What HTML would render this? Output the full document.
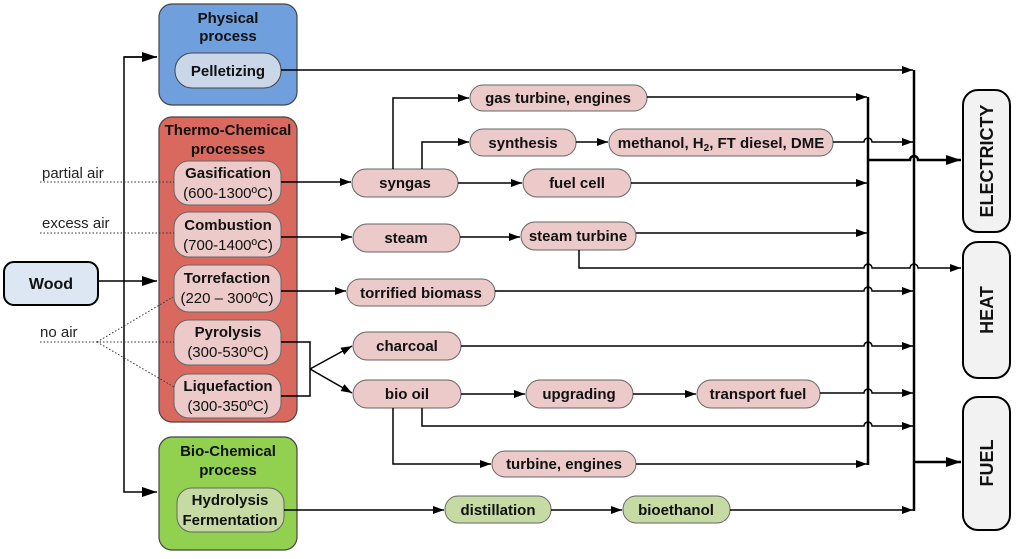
<!DOCTYPE html>
<html><head><meta charset="utf-8"><style>
html,body{margin:0;padding:0;background:#fff;}
svg{display:block;font-family:"Liberation Sans",Arial,sans-serif;}
.b{font-weight:bold;font-size:15px;text-anchor:middle;fill:#111;}
.n{font-size:15px;text-anchor:middle;fill:#111;}
.o{font-weight:bold;font-size:18px;text-anchor:middle;fill:#111;}
.l{font-size:15px;fill:#222;}
.p{fill:#ebcac9;stroke:#666;stroke-width:1;}
.g{fill:#c6dba4;stroke:#666;stroke-width:1;}
.ln{fill:none;stroke:#000;stroke-width:1.5;}
.dt{fill:none;stroke:#333;stroke-width:1;stroke-dasharray:1.5 2;}
</style></head><body>
<svg width="1024" height="559" viewBox="0 0 1024 559" xmlns="http://www.w3.org/2000/svg">
<defs>
<marker id="a" markerWidth="11" markerHeight="8" refX="11" refY="4" orient="auto" markerUnits="userSpaceOnUse"><path d="M0,0 L11,4 L0,8 z" fill="#000"/></marker>
<marker id="A" markerWidth="15" markerHeight="10" refX="15" refY="5" orient="auto" markerUnits="userSpaceOnUse"><path d="M0,0 L15,5 L0,10 z" fill="#000"/></marker>
</defs>

<rect x="159" y="4" width="138" height="101" rx="13" fill="#6f9fdc" stroke="#444" stroke-width="1.2"/>
<text class="b" x="228" y="23">Physical</text><text class="b" x="228" y="41">process</text>
<rect x="175" y="53" width="106" height="35" rx="17" fill="#c9d7e8" stroke="#444"/>
<text class="b" x="228" y="76">Pelletizing</text>

<rect x="159" y="117" width="138" height="305" rx="13" fill="#d9695f" stroke="#444" stroke-width="1.2"/>
<text class="b" x="228" y="135">Thermo-Chemical</text><text class="b" x="228" y="154">processes</text>
<rect x="174" y="161" width="107" height="44" rx="15" class="p"/>
<text class="b" x="228" y="178">Gasification</text><text class="n" x="228" y="198">(600-1300ºC)</text>
<rect x="174" y="212" width="107" height="45" rx="15" class="p"/>
<text class="b" x="228" y="230">Combustion</text><text class="n" x="228" y="250">(700-1400ºC)</text>
<rect x="174" y="265" width="107" height="47" rx="15" class="p"/>
<text class="b" x="227" y="283">Torrefaction</text><text class="n" x="227" y="303">(220 – 300ºC)</text>
<rect x="174" y="320" width="107" height="45" rx="15" class="p"/>
<text class="b" x="228" y="337">Pyrolysis</text><text class="n" x="228" y="357">(300-530ºC)</text>
<rect x="174" y="374" width="107" height="44" rx="15" class="p"/>
<text class="b" x="228" y="391">Liquefaction</text><text class="n" x="228" y="411">(300-350ºC)</text>

<rect x="159" y="437" width="138" height="113" rx="13" fill="#92d050" stroke="#444" stroke-width="1.2"/>
<text class="b" x="228" y="456">Bio-Chemical</text><text class="b" x="228" y="475">process</text>
<rect x="177" y="488" width="107" height="44" rx="15" class="g"/>
<text class="b" x="230" y="505">Hydrolysis</text><text class="b" x="230" y="525">Fermentation</text>

<rect x="4" y="262" width="94" height="43" rx="10" fill="#dde6f3" stroke="#000" stroke-width="2"/>
<text class="b" x="51" y="289" style="font-size:16px">Wood</text>
<path class="ln" d="M98,281 L157,281" marker-end="url(#A)"/>
<path class="ln" d="M157,57 L124,57 L124,492 L157,492" marker-end="url(#A)"/>
<path class="ln" d="M124,57 L157,57" marker-end="url(#A)"/>

<text class="l" x="42" y="178">partial air</text>
<path class="dt" d="M40,182 L174,182"/>
<text class="l" x="42" y="228">excess air</text>
<path class="dt" d="M40,233 L174,233"/>
<text class="l" x="40" y="337">no air</text>
<path class="dt" d="M40,342 L174,342 M97,342 L173,297 M97,342 L174,387"/>

<rect x="470" y="85" width="177" height="26" rx="13" class="p"/><text class="b" x="558" y="103">gas turbine, engines</text>
<rect x="470" y="129" width="106" height="27" rx="13" class="p"/><text class="b" x="523" y="148">synthesis</text>
<rect x="609" y="129" width="224" height="27" rx="13" class="p"/><text class="b" x="721" y="148">methanol, H<tspan font-size="10" dy="3">2</tspan><tspan dy="-3">, FT diesel, DME</tspan></text>
<rect x="352" y="169" width="106" height="28" rx="14" class="p"/><text class="b" x="405" y="188">syngas</text>
<rect x="523" y="169" width="108" height="28" rx="14" class="p"/><text class="b" x="577" y="188">fuel cell</text>
<rect x="353" y="224" width="107" height="28" rx="14" class="p"/><text class="b" x="406" y="243">steam</text>
<rect x="521" y="222" width="115" height="28" rx="14" class="p"/><text class="b" x="578" y="241">steam turbine</text>
<rect x="347" y="279" width="148" height="27" rx="13" class="p"/><text class="b" x="421" y="298">torrified biomass</text>
<rect x="353" y="332" width="108" height="28" rx="14" class="p"/><text class="b" x="407" y="351">charcoal</text>
<rect x="353" y="380" width="108" height="28" rx="14" class="p"/><text class="b" x="407" y="399">bio oil</text>
<rect x="526" y="380" width="107" height="28" rx="14" class="p"/><text class="b" x="579" y="399">upgrading</text>
<rect x="697" y="380" width="123" height="28" rx="14" class="p"/><text class="b" x="758" y="399">transport fuel</text>
<rect x="492" y="451" width="144" height="26" rx="13" class="p"/><text class="b" x="564" y="469">turbine, engines</text>
<rect x="445" y="496" width="106" height="27" rx="13" class="g"/><text class="b" x="498" y="515">distillation</text>
<rect x="623" y="496" width="107" height="27" rx="13" class="g"/><text class="b" x="676" y="515">bioethanol</text>

<path class="ln" d="M281,182 L351,182" marker-end="url(#a)"/>
<path class="ln" d="M281,237 L352,237" marker-end="url(#a)"/>
<path class="ln" d="M281,291 L346,291" marker-end="url(#a)"/>
<path class="ln" d="M281,342 L310,342 L310,396 L281,396"/>
<path class="ln" d="M310,369 L352,346" marker-end="url(#a)"/>
<path class="ln" d="M310,369 L352,393" marker-end="url(#a)"/>
<path class="ln" d="M284,510 L444,510" marker-end="url(#a)"/>

<path class="ln" d="M393,169 L393,98 L469,98" marker-end="url(#a)"/>
<path class="ln" d="M422,169 L422,142 L469,142" marker-end="url(#a)"/>
<path class="ln" d="M576,142 L608,142" marker-end="url(#a)"/>
<path class="ln" d="M458,183 L522,183" marker-end="url(#a)"/>
<path class="ln" d="M460,237 L520,237" marker-end="url(#a)"/>
<path class="ln" d="M461,394 L525,394" marker-end="url(#a)"/>
<path class="ln" d="M633,394 L696,394" marker-end="url(#a)"/>
<path class="ln" d="M393,408 L393,464 L491,464" marker-end="url(#a)"/>
<path class="ln" d="M551,510 L622,510" marker-end="url(#a)"/>

<path class="ln" d="M281,70 L913,70" marker-end="url(#a)"/>
<path class="ln" d="M647,97 L867,97" marker-end="url(#a)"/>
<path class="ln" d="M833,142 L864,142 A4,4 0 0 1 872,142 L913,142" marker-end="url(#a)"/>
<path class="ln" d="M631,183 L867,183" marker-end="url(#a)"/>
<path class="ln" d="M636,233 L867,233" marker-end="url(#a)"/>
<path class="ln" d="M579,250 L579,268 L864,268 A4,4 0 0 1 872,268 L910,268 A4,4 0 0 1 918,268 L961,268" marker-end="url(#a)"/>
<path class="ln" d="M495,291 L864,291 A4,4 0 0 1 872,291 L913,291" marker-end="url(#a)"/>
<path class="ln" d="M461,346 L864,346 A4,4 0 0 1 872,346 L913,346" marker-end="url(#a)"/>
<path class="ln" d="M820,393 L864,393 A4,4 0 0 1 872,393 L913,393" marker-end="url(#a)"/>
<path class="ln" d="M422,408 L422,426 L864,426 A4,4 0 0 1 872,426 L913,426" marker-end="url(#a)"/>
<path class="ln" d="M636,464 L867,464" marker-end="url(#a)"/>
<path class="ln" d="M730,510 L913,510" marker-end="url(#a)"/>

<path d="M868,97 L868,465" stroke="#000" stroke-width="2.5" fill="none"/>
<path d="M914,70 L914,511" stroke="#000" stroke-width="2.5" fill="none"/>
<path d="M868,160 L910,160 A4,4 0 0 1 918,160 L961,160" stroke="#000" stroke-width="2.5" fill="none" marker-end="url(#A)"/>
<path d="M914,462 L961,462" stroke="#000" stroke-width="2.5" fill="none" marker-end="url(#A)"/>

<rect x="963" y="90" width="47" height="142" rx="15" fill="#f2f2f2" stroke="#000" stroke-width="2"/>
<text class="o" transform="translate(993,161) rotate(-90)">ELECTRICTY</text>
<rect x="963" y="242" width="47" height="136" rx="15" fill="#f2f2f2" stroke="#000" stroke-width="2"/>
<text class="o" transform="translate(993,310) rotate(-90)">HEAT</text>
<rect x="963" y="397" width="47" height="133" rx="15" fill="#f2f2f2" stroke="#000" stroke-width="2"/>
<text class="o" transform="translate(993,463) rotate(-90)">FUEL</text>
</svg>
</body></html>
